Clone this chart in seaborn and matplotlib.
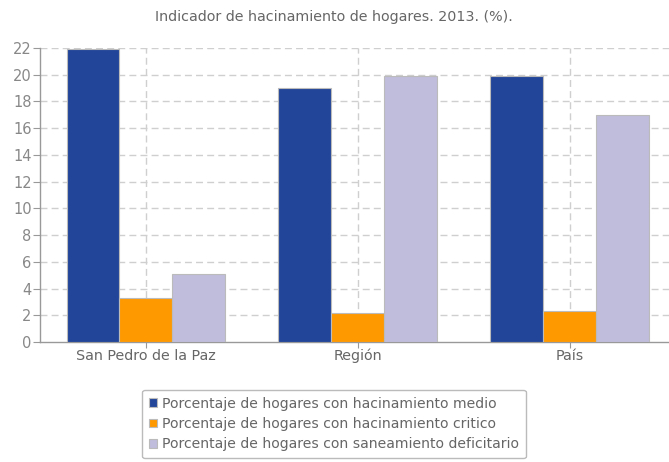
import matplotlib
matplotlib.use("Agg")
import matplotlib.pyplot as plt
import seaborn as sns
import pandas as pd

categories = ["San Pedro de la Paz", "Región", "País"]
series_names = [
    "Porcentaje de hogares con hacinamiento medio",
    "Porcentaje de hogares con hacinamiento critico",
    "Porcentaje de hogares con saneamiento deficitario",
]
medio = [21.9, 19.0, 19.9]
critico = [3.3, 2.2, 2.3]
saneamiento = [5.1, 19.9, 17.0]
yticks = list(range(0, 23, 2))
colors = ["#224499", "#FF9900", "#C0BDDC"]

rows = []
for name, vals in zip(series_names, [medio, critico, saneamiento]):
    for c, v in zip(categories, vals):
        rows.append({"cat": c, "serie": name, "val": v})
df = pd.DataFrame(rows)

sns.set_style("white")
plt.rcParams['font.family'] = ['DejaVu Sans']

fig = plt.figure(figsize=(6.69, 4.62), dpi=100)
ax = fig.add_axes([40/669, 120/462, 636/669, 294/462])

sns.barplot(data=df, x="cat", y="val", hue="serie", order=categories,
            hue_order=series_names, palette=colors, width=0.75, saturation=1,
            edgecolor="#BBBBBB", linewidth=0.8, ax=ax, legend=True, zorder=3)

ax.set_xlim(-0.5, 2.5)
ax.set_ylim(0, 22)
ax.set_yticks(yticks)
ax.set_yticklabels([str(t) for t in yticks])
ax.set_xlabel("")
ax.set_ylabel("")

grid_col = "#CFCFCF"
for t in yticks[1:]:
    ax.axhline(t, color=grid_col, linestyle=(0, (5, 3)), linewidth=1, zorder=1)
for i in range(len(categories)):
    ax.axvline(i, color=grid_col, linestyle=(0, (5, 3)), linewidth=1, zorder=1)

for s in ["top", "right"]:
    ax.spines[s].set_visible(False)
for s in ["left", "bottom"]:
    ax.spines[s].set_color("#999999")
    ax.spines[s].set_linewidth(1)

ax.tick_params(axis="y", length=5, color="#999999", labelcolor="#888888",
               labelsize=10.5, pad=1, direction="out", left=True)
ax.tick_params(axis="x", length=4, color="#999999", labelcolor="#666666",
               labelsize=10.3, pad=1, direction="out", bottom=True)

fig.text(334/669, 1 - 17/462, "Indicador de hacinamiento de hogares. 2013. (%).",
         ha="center", va="center", fontsize=10.3, color="#666666")

handles, labels = ax.get_legend_handles_labels()
ax.legend_.remove()
leg = fig.legend(handles, labels, loc="center", bbox_to_anchor=(334/669, 1 - 424/462),
                 frameon=True, fancybox=True, fontsize=10.1, handlelength=0.55,
                 handleheight=0.55, handletextpad=0.4, labelspacing=0.45,
                 borderpad=0.5, labelcolor="#666666")
leg.get_frame().set_edgecolor("#AAAAAA")
leg.get_frame().set_linewidth(1)

fig.savefig("out.png", dpi=100)
